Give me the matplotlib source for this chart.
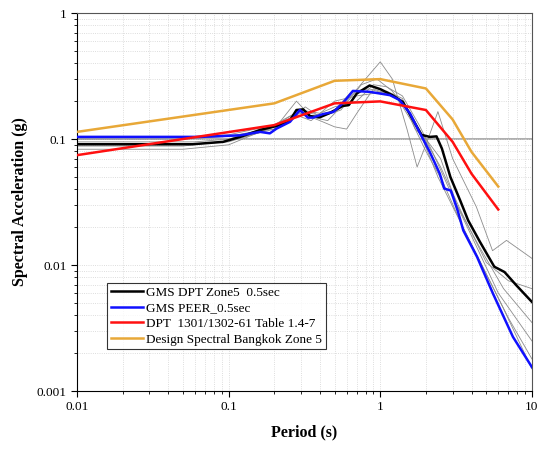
import matplotlib

matplotlib.use("Agg")
import matplotlib.pyplot as plt
from matplotlib import ticker

plt.rcParams["font.family"] = ["Liberation Serif", "DejaVu Serif"]

# --- mean spectra ---
t_dpt = [0.01, 0.058, 0.092, 0.119, 0.161, 0.218, 0.254, 0.28, 0.31, 0.345, 0.40, 0.465,
         0.565, 0.62, 0.70, 0.85, 1.0, 1.2, 1.41, 1.65, 1.87, 2.12, 2.35, 2.55, 2.9, 3.36,
         3.8, 4.54, 5.65, 6.6, 7.9, 10.0]
sa_dpt = [0.091, 0.091, 0.095, 0.104, 0.118, 0.129, 0.141, 0.17, 0.172, 0.152, 0.149, 0.161,
          0.183, 0.186, 0.23, 0.266, 0.249, 0.223, 0.197, 0.141, 0.108, 0.104, 0.105, 0.084,
          0.050, 0.0327, 0.0226, 0.0153, 0.0097, 0.0088, 0.0069, 0.0051]

t_peer = [0.01, 0.065, 0.119, 0.161, 0.187, 0.207, 0.254, 0.295, 0.333, 0.36, 0.42, 0.49,
          0.565, 0.66, 0.85, 1.16, 1.34, 1.57, 1.83, 2.12, 2.47, 2.64, 2.92, 3.24, 3.53,
          4.35, 5.55, 7.5, 10.0]
sa_peer = [0.104, 0.104, 0.107, 0.114, 0.111, 0.121, 0.137, 0.17, 0.148, 0.148, 0.158, 0.164,
           0.192, 0.241, 0.237, 0.223, 0.204, 0.16, 0.111, 0.079, 0.053, 0.0405, 0.039, 0.027,
           0.0188, 0.0116, 0.0059, 0.00269, 0.00155]

# --- code spectra ---
t_code = [0.01, 0.2, 0.5, 1.0, 2.0, 3.0, 4.0, 6.0]
sa_code = [0.0745, 0.129, 0.192, 0.199, 0.17, 0.095, 0.053, 0.0276]

t_design = [0.01, 0.2, 0.5, 1.0, 2.0, 3.0, 4.0, 6.0]
sa_design = [0.114, 0.192, 0.29, 0.299, 0.252, 0.143, 0.079, 0.042]

# --- individual records (thin grey) ---
t_g1 = [0.01, 0.05, 0.1, 0.15, 0.2, 0.28, 0.35, 0.45, 0.6, 0.8, 1.0, 1.2, 1.5, 1.75, 2.0,
        2.4, 3.0, 4.3, 5.5, 6.8, 10]
sa_g1 = [0.088, 0.088, 0.097, 0.11, 0.12, 0.2, 0.15, 0.14, 0.2, 0.3, 0.41, 0.3, 0.12, 0.06,
         0.09, 0.165, 0.07, 0.029, 0.013, 0.0157, 0.0113]
t_g2 = [0.01, 0.05, 0.1, 0.15, 0.2, 0.25, 0.3, 0.4, 0.5, 0.6, 0.7, 0.9, 1.1, 1.4, 1.8, 2.5,
        3.5, 5, 7, 10]
sa_g2 = [0.083, 0.083, 0.09, 0.11, 0.125, 0.15, 0.16, 0.14, 0.125, 0.12, 0.16, 0.25, 0.23,
         0.2, 0.12, 0.06, 0.025, 0.0105, 0.0075, 0.0065]
t_g3 = [0.01, 0.05, 0.1, 0.15, 0.2, 0.3, 0.4, 0.5, 0.7, 0.9, 1.1, 1.4, 1.8, 2.2, 3, 4, 6, 10]
sa_g3 = [0.1, 0.1, 0.105, 0.115, 0.13, 0.17, 0.16, 0.18, 0.2, 0.27, 0.26, 0.22, 0.13, 0.08,
         0.035, 0.017, 0.006, 0.0025]
t_g4 = [0.01, 0.06, 0.1, 0.15, 0.2, 0.3, 0.4, 0.5, 0.65, 0.85, 1.0, 1.3, 1.6, 2.0, 2.6, 3.5,
        5, 7, 10]
sa_g4 = [0.105, 0.105, 0.108, 0.12, 0.125, 0.165, 0.155, 0.17, 0.24, 0.25, 0.235, 0.21, 0.14,
         0.08, 0.045, 0.02, 0.0085, 0.0038, 0.0018]
t_g5 = [0.01, 0.06, 0.1, 0.15, 0.2, 0.25, 0.32, 0.4, 0.55, 0.75, 0.95, 1.2, 1.5, 1.9, 2.4,
        3.2, 4.5, 6.5, 10]
sa_g5 = [0.095, 0.095, 0.1, 0.115, 0.12, 0.14, 0.18, 0.15, 0.17, 0.27, 0.3, 0.24, 0.17, 0.1,
         0.05, 0.025, 0.011, 0.0045, 0.0015]
t_g6 = [0.01, 0.05, 0.1, 0.15, 0.2, 0.28, 0.35, 0.5, 0.7, 0.9, 1.1, 1.4, 1.7, 2.0, 2.5, 3.2,
        4.5, 6.5, 10]
sa_g6 = [0.09, 0.09, 0.095, 0.11, 0.125, 0.155, 0.14, 0.2, 0.22, 0.23, 0.24, 0.21, 0.12, 0.1,
         0.07, 0.03, 0.014, 0.0065, 0.0035]

greys = [(t_g1, sa_g1), (t_g2, sa_g2), (t_g3, sa_g3), (t_g4, sa_g4), (t_g5, sa_g5), (t_g6, sa_g6)]

fig = plt.figure(figsize=(5.4, 4.5), dpi=100)
ax = fig.add_axes([0.1426, 0.131, 0.8424, 0.84])
ax.set_xscale("log")
ax.set_yscale("log")
ax.set_xlim(0.01, 10)
ax.set_ylim(0.001, 1)

ax.grid(True, which="both", linestyle=":", color="#d2d2d2", linewidth=0.6)
ax.axhline(0.1, color="#a0a0a0", linewidth=1.2, zorder=1)

for t, sa in greys:
    ax.plot(t, sa, color="#8c8c8c", linewidth=0.6, zorder=2)

ax.plot(t_dpt, sa_dpt, color="black", linewidth=1.8, label="GMS DPT Zone5  0.5sec", zorder=4)
ax.plot(t_peer, sa_peer, color="#1010ff", linewidth=1.8, label="GMS PEER_0.5sec", zorder=5)
ax.plot(t_code, sa_code, color="#ff1010", linewidth=1.8,
        label="DPT  1301/1302-61 Table 1.4-7", zorder=6)
ax.plot(t_design, sa_design, color="#e8a838", linewidth=1.8,
        label="Design Spectral Bangkok Zone 5", zorder=6)

fmt = ticker.FuncFormatter(lambda v, _: f"{v:g}")
ax.xaxis.set_major_formatter(fmt)
ax.yaxis.set_major_formatter(fmt)
ax.xaxis.set_minor_formatter(ticker.NullFormatter())
ax.yaxis.set_minor_formatter(ticker.NullFormatter())
ax.tick_params(which="major", labelsize=9.5, length=4, width=0.8)
ax.tick_params(which="minor", length=2.5, width=0.6)

for side in ("top", "right"):
    ax.spines[side].set_color("#555555")

ax.set_xlabel("Period (s)", fontsize=11.5, fontweight="bold", labelpad=8)
ax.set_ylabel("Spectral Acceleration (g)", fontsize=11.5, fontweight="bold", labelpad=6)

leg = ax.legend(loc="lower left", bbox_to_anchor=(0.066, 0.11), borderaxespad=0,
                fontsize=9.5, frameon=True, fancybox=False, handlelength=2.4,
                handletextpad=0.25, labelspacing=0.25, borderpad=0.3)
leg.get_frame().set_edgecolor("black")
leg.get_frame().set_linewidth(0.8)

fig.savefig("out.png", dpi=100, facecolor="white")
